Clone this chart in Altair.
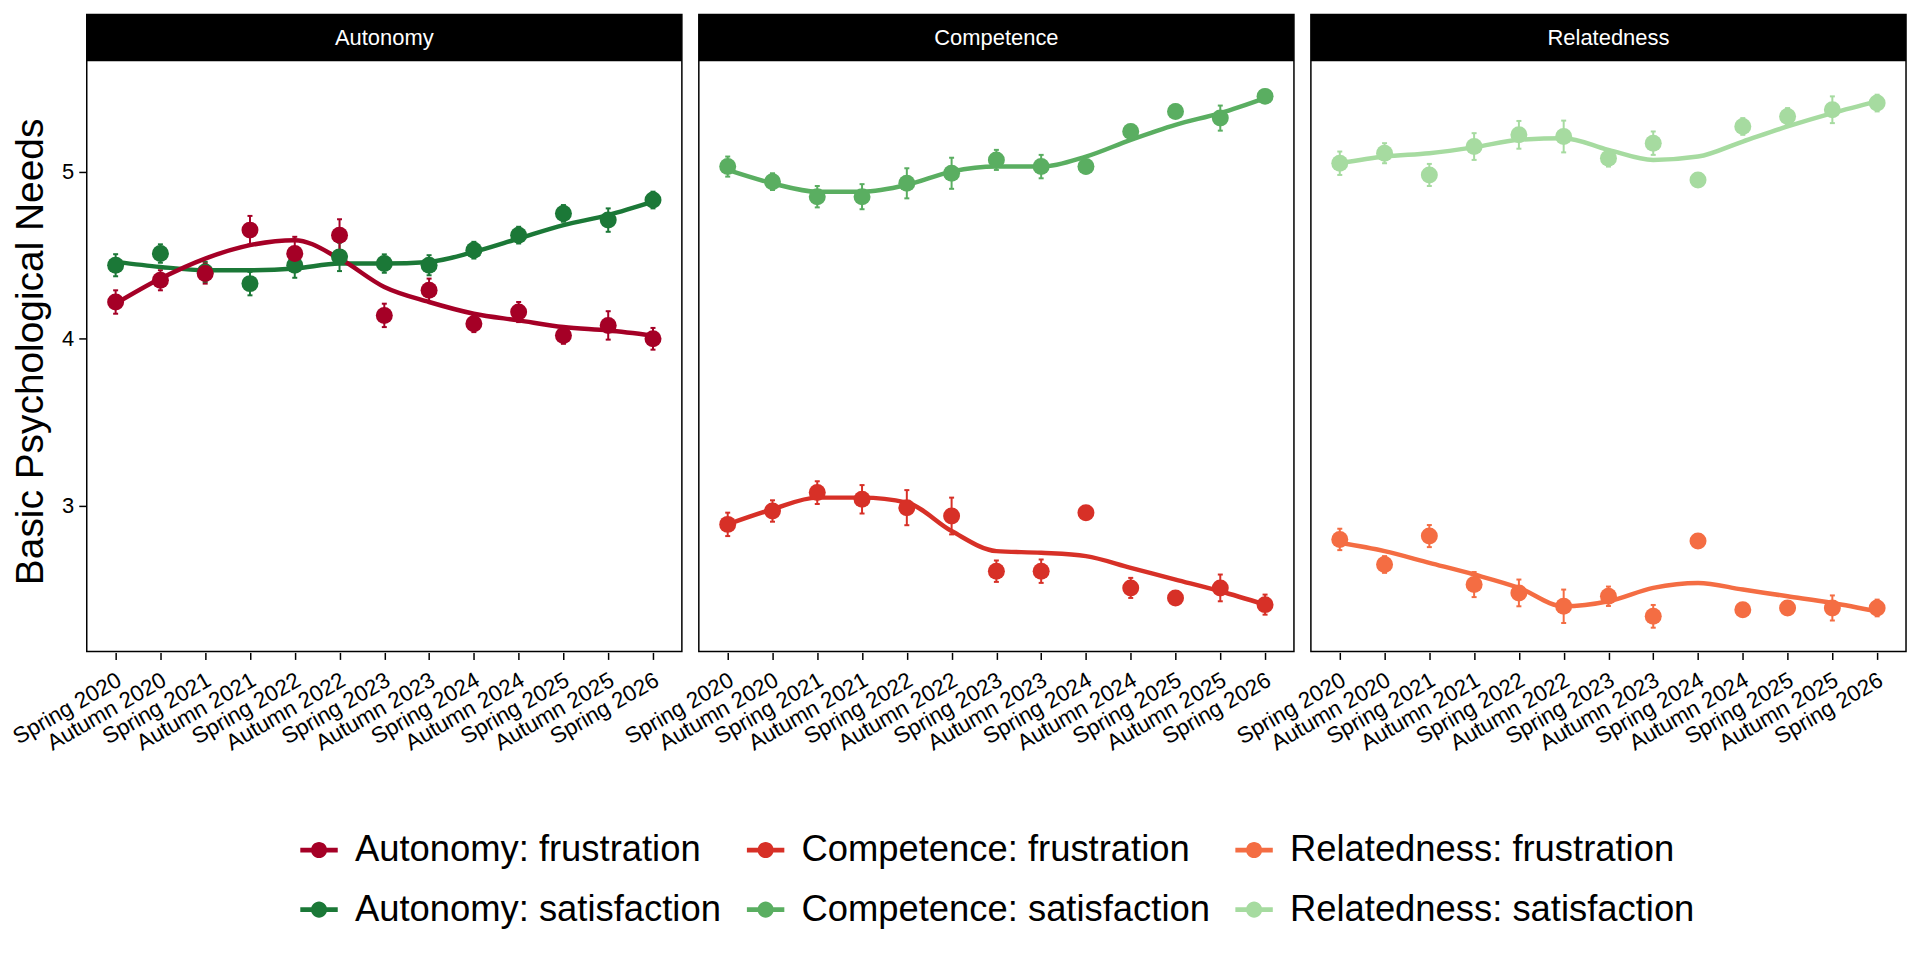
import math
import altair as alt
import pandas as pd

labels = ["Spring 2020", "Autumn 2020", "Spring 2021", "Autumn 2021", "Spring 2022",
          "Autumn 2022", "Spring 2023", "Autumn 2023", "Spring 2024", "Autumn 2024",
          "Spring 2025", "Autumn 2025", "Spring 2026"]
needs = ["Autonomy", "Competence", "Relatedness"]

aut_sat = [4.44, 4.51, 4.40, 4.33, 4.44, 4.49, 4.45, 4.44, 4.53, 4.62, 4.75, 4.71, 4.83]
aut_sat_se = [0.066, 0.055, 0.06, 0.07, 0.075, 0.085, 0.055, 0.06, 0.05, 0.05, 0.05, 0.07, 0.05]
aut_sat_fit = [4.46, 4.43, 4.41, 4.41, 4.42, 4.45, 4.45, 4.46, 4.52, 4.60, 4.68, 4.74, 4.82]

aut_frus = [4.22, 4.35, 4.39, 4.65, 4.51, 4.62, 4.14, 4.29, 4.09, 4.16, 4.02, 4.08, 4.00]
aut_frus_se = [0.07, 0.06, 0.06, 0.085, 0.10, 0.095, 0.07, 0.07, 0.05, 0.06, 0.05, 0.085, 0.065]
aut_frus_fit = [4.21, 4.36, 4.48, 4.56, 4.59, 4.48, 4.31, 4.22, 4.15, 4.11, 4.07, 4.05, 4.02]

comp_sat = [5.03, 4.94, 4.85, 4.85, 4.93, 4.99, 5.07, 5.03, 5.03, 5.24, 5.36, 5.32, 5.45]
comp_sat_se = [0.06, 0.05, 0.064, 0.075, 0.09, 0.093, 0.06, 0.07, 0.04, 0.04, 0.04, 0.075, 0.04]
comp_sat_fit = [5.01, 4.93, 4.88, 4.88, 4.92, 5.00, 5.03, 5.03, 5.09, 5.19, 5.28, 5.35, 5.44]

comp_frus = [2.89, 2.97, 3.08, 3.04, 2.99, 2.94, 2.61, 2.61, 2.96, 2.51, 2.45, 2.51, 2.41]
comp_frus_se = [0.07, 0.064, 0.068, 0.085, 0.105, 0.11, 0.064, 0.07, 0.04, 0.06, 0.04, 0.08, 0.06]
comp_frus_fit = [2.89, 2.98, 3.05, 3.05, 3.02, 2.85, 2.73, 2.72, 2.70, 2.63, 2.56, 2.49, 2.41]

rel_sat = [5.05, 5.11, 4.98, 5.15, 5.22, 5.21, 5.08, 5.17, 4.95, 5.27, 5.33, 5.37, 5.41]
rel_sat_se = [0.07, 0.06, 0.066, 0.08, 0.083, 0.095, 0.05, 0.07, 0.04, 0.05, 0.05, 0.08, 0.05]
rel_sat_fit = [5.05, 5.09, 5.11, 5.145, 5.19, 5.20, 5.13, 5.07, 5.09, 5.18, 5.27, 5.35, 5.42]

rel_frus = [2.80, 2.65, 2.82, 2.53, 2.48, 2.40, 2.46, 2.34, 2.79, 2.38, 2.39, 2.39, 2.39]
rel_frus_se = [0.064, 0.05, 0.066, 0.075, 0.08, 0.10, 0.058, 0.068, 0.04, 0.04, 0.04, 0.075, 0.05]
rel_frus_fit = [2.78, 2.73, 2.66, 2.59, 2.51, 2.40, 2.43, 2.51, 2.54, 2.50, 2.46, 2.42, 2.37]

series_order = ["Autonomy: frustration", "Competence: frustration", "Relatedness: frustration",
                "Autonomy: satisfaction", "Competence: satisfaction", "Relatedness: satisfaction"]
series_colors = ["#a50026", "#d73027", "#f46d43", "#1b7837", "#5aae61", "#a6dba0"]
color_of = dict(zip(series_order, series_colors))

blocks = [
    ("Autonomy", "satisfaction", aut_sat, aut_sat_se, aut_sat_fit),
    ("Autonomy", "frustration", aut_frus, aut_frus_se, aut_frus_fit),
    ("Competence", "satisfaction", comp_sat, comp_sat_se, comp_sat_fit),
    ("Competence", "frustration", comp_frus, comp_frus_se, comp_frus_fit),
    ("Relatedness", "satisfaction", rel_sat, rel_sat_se, rel_sat_fit),
    ("Relatedness", "frustration", rel_frus, rel_frus_se, rel_frus_fit),
]
rows = []
for need, kind, vals, ses, fits in blocks:
    name = f"{need}: {kind}"
    for i, (v, s, f) in enumerate(zip(vals, ses, fits)):
        rows.append({"need": need, "kind": kind, "series": name, "hex": color_of[name],
                     "xi": i, "mean": v, "lo": v - s, "hi": v + s, "fit": f})
df = pd.DataFrame(rows)

W, H = 597, 639
FONT = "Liberation Sans"
label_array = "[" + ",".join(f"'{l}'" for l in labels) + "]"

xscale = alt.Scale(domain=[-0.645, 12.645], nice=False, zero=False)
yscale = alt.Scale(domain=[2.13, 5.94], nice=False, zero=False)

x_enc = alt.X("xi:Q", scale=xscale, title=None,
              axis=alt.Axis(values=list(range(13)), labelExpr=f"{label_array}[datum.value]",
                            labelAngle=-30, labelAlign="right", labelBaseline="top",
                            labelFontSize=22.5, labelColor="black", labelPadding=9,
                            labelOffset=-2,
                            tickSize=7, tickColor="black", tickWidth=1.5, grid=False,
                            domain=False, labelOverlap=False, labelFont=FONT))
y_enc = alt.Y("mean:Q", scale=yscale, title="Basic Psychological Needs",
              axis=alt.Axis(values=[3, 4, 5], format="d", labelFontSize=22, labelColor="black",
                            tickSize=7, tickColor="black", tickWidth=1.5, grid=False,
                            domain=False, titleFontSize=39, titleFontWeight="normal",
                            titleColor="black", titlePadding=11, labelPadding=5,
                            titleFont=FONT, labelFont=FONT, titleY=338))

# legend key: a short line with a dot on it
_r = 0.43
_circle = "M" + "L".join(
    f"{_r * math.cos(2 * math.pi * k / 32):.4f},{_r * math.sin(2 * math.pi * k / 32):.4f}"
    for k in range(32)) + "Z"
legend_path = "M-1,-0.13L1,-0.13L1,0.13L-1,0.13Z" + _circle

fill_enc = alt.Fill("series:N", scale=alt.Scale(domain=series_order, range=series_colors),
                    legend=alt.Legend(title=None, orient="none", legendX=214, legendY=819,
                                      direction="horizontal",
                                      columns=3, symbolType=legend_path, symbolSize=1410,
                                      symbolStrokeWidth=0,
                                      labelFontSize=36.5, labelFont=FONT, labelColor="black",
                                      labelLimit=1000, labelOffset=17, columnPadding=25,
                                      rowPadding=22))
stroke_enc = alt.Stroke("hex:N", scale=None)

base = alt.Chart(df)

err = base.mark_rule(strokeWidth=2).encode(
    x=x_enc, y=alt.Y("lo:Q", scale=yscale), y2="hi:Q", stroke=stroke_enc)
cap_hi = base.mark_rule(strokeWidth=2, xOffset=-2.5, x2Offset=2.5).encode(
    x=x_enc, x2="xi:Q", y=alt.Y("hi:Q", scale=yscale), stroke=stroke_enc)
cap_lo = base.mark_rule(strokeWidth=2, xOffset=-2.5, x2Offset=2.5).encode(
    x=x_enc, x2="xi:Q", y=alt.Y("lo:Q", scale=yscale), stroke=stroke_enc)
lines = base.mark_line(strokeWidth=4.5, interpolate="monotone").encode(
    x=x_enc, y=alt.Y("fit:Q", scale=yscale), stroke=stroke_enc, detail="series:N")
points = base.mark_point(filled=True, size=290, opacity=1, strokeWidth=0).encode(
    x=x_enc, y=y_enc, fill=fill_enc)

one_per_panel = "datum.xi == 0 && datum.kind == 'frustration'"
strip = base.transform_filter(one_per_panel).mark_rect(color="black").encode(
    x=alt.value(0), x2=alt.value(W), y=alt.value(0), y2=alt.value(47))
strip_text = base.transform_filter(one_per_panel).mark_text(
    color="white", fontSize=22, font=FONT, baseline="middle", align="center").encode(
    x=alt.value(W / 2), y=alt.value(24), text="need:N")

layer = alt.layer(err, cap_hi, cap_lo, lines, points, strip, strip_text).properties(
    width=W, height=H)

chart = layer.facet(
    column=alt.Column("need:N", sort=needs, header=alt.Header(labels=False, title=None)),
    spacing=15,
).properties(
    background="white", padding={"left": 0, "top": 4, "right": 5, "bottom": 10}
).configure(font=FONT).configure_view(stroke="black", strokeWidth=1.5)

chart.save("out.html", embed_options={"renderer": "svg", "actions": False})
